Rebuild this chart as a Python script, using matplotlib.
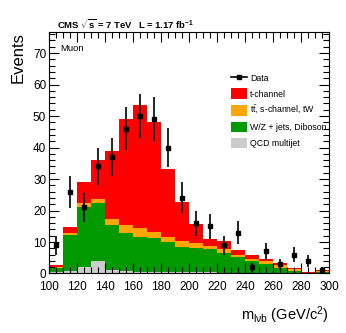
import numpy as np
import matplotlib.pyplot as plt
import matplotlib.lines as mlines
import matplotlib.patches as mpatches

edges = np.arange(100, 310, 10)
centers = edges[:-1] + 5

# stacked components per bin (bottom to top)
qcd = [0.6, 0.7, 2.2, 3.9, 1.1, 0.8, 0.6, 0.5, 0.5, 0.4, 0.4, 0.4, 0.3, 0.3, 0.3, 0.2, 0.2, 0.1, 0.0, 0.1]
wz = [1.2, 11.5, 19.0, 18.6, 14.4, 12.2, 11.1, 10.8, 9.5, 8.1, 7.8, 7.5, 6.1, 4.8, 3.8, 2.8, 1.5, 0.6, 0.1, 0.3]
ttbar = [0.3, 0.8, 1.3, 1.2, 1.7, 2.3, 2.7, 1.9, 1.7, 1.7, 1.6, 0.8, 1.3, 0.9, 0.6, 0.9, 1.1, 0.6, 0.2, 0.4]
tchan = [0.7, 1.9, 6.5, 12.5, 21.6, 33.7, 39.0, 34.8, 21.6, 12.6, 5.8, 2.4, 2.6, 1.5, 1.3, 0.6, 0.6, 0.4, 0.3, 0.3]

data = [9, 26, 21, 34, 37, 46, 50, 49, 40, 24, 16, 15, 9, 13, 2, 7, 3, 6, 4, 1]
data_err = [3.0, 5.1, 4.6, 5.8, 6.1, 6.8, 7.1, 7.0, 6.3, 4.9, 4.0, 3.9, 3.0, 3.6, 1.4, 2.6, 1.7, 2.4, 2.0, 1.0]

labels = ["Data", "t-channel", r"t$\bar{\rm t}$, s-channel, tW", "W/Z + jets, Diboson", "QCD multijet"]
colors = {"qcd": "#cccccc", "wz": "#009900", "tt": "#ffa500", "t": "#ff0000"}

plt.rcParams['font.family'] = ['Liberation Sans', 'DejaVu Sans']
plt.rcParams['mathtext.fontset'] = 'custom'
plt.rcParams['mathtext.rm'] = 'Liberation Sans'
plt.rcParams['mathtext.it'] = 'Liberation Sans'
plt.rcParams['mathtext.bf'] = 'Liberation Sans:bold'

fig = plt.figure(figsize=(3.46, 3.33), dpi=100)
ax = fig.add_axes([0.1416, 0.1787, 0.8094, 0.7253])

bottom = np.zeros(len(centers))
for vals, c in [(qcd, colors["qcd"]), (wz, colors["wz"]), (ttbar, colors["tt"]), (tchan, colors["t"])]:
    ax.bar(edges[:-1], vals, width=10, bottom=bottom, align='edge', color=c, linewidth=0)
    bottom = bottom + np.array(vals)

ax.errorbar(centers, data, yerr=data_err, fmt='s', color='black', markersize=3,
            elinewidth=1.2, capsize=0)

ax.set_xlim(100, 300)
ax.set_ylim(0, 76.7)
ax.set_xticks(np.arange(100, 301, 20))
ax.set_xticks(np.arange(100, 301, 5), minor=True)
ax.set_yticks(np.arange(0, 71, 10))
ax.set_yticks(np.arange(0, 77, 2), minor=True)
ax.tick_params(which='both', direction='in', top=True, right=True, labelsize=8.5)
ax.tick_params(axis='x', pad=5.5)
ax.tick_params(axis='y', pad=2)
ax.tick_params(which='major', length=7, width=0.8)
ax.tick_params(which='minor', length=4, width=0.8)

ax.set_ylabel("Events", fontsize=12, loc='top', labelpad=5)
ax.set_xlabel(r"m$_{l\nu b}$ (GeV/c$^{2}$)", fontsize=10.5, loc='right', labelpad=8)

fig.text(57 / 346, 1 - 29 / 333, r"CMS $\mathbf{\sqrt{s}}$ = 7 TeV", fontsize=6.8, fontweight='bold', va='baseline')
fig.text(138 / 346, 1 - 29 / 333, r"L = 1.17 fb$^{\mathbf{-1}}$", fontsize=6.8, fontweight='bold', va='baseline')
ax.text(0.04, 0.93, "Muon", transform=ax.transAxes, fontsize=6.8, va='center')

handles = [
    mlines.Line2D([], [], color='black', marker='s', markersize=3, linewidth=1.2),
    mpatches.Patch(color=colors["t"], linewidth=0),
    mpatches.Patch(color=colors["tt"], linewidth=0),
    mpatches.Patch(color=colors["wz"], linewidth=0),
    mpatches.Patch(color=colors["qcd"], linewidth=0),
]
ax.legend(handles, labels, loc='upper left', bbox_to_anchor=(231 / 346, 1 - 72.5 / 333),
          bbox_transform=fig.transFigure, frameon=False, borderpad=0, borderaxespad=0,
          fontsize=6.3, handlelength=1.85, handleheight=1.5, labelspacing=0.6, handletextpad=0.3)

fig.savefig("out.png", dpi=100)
